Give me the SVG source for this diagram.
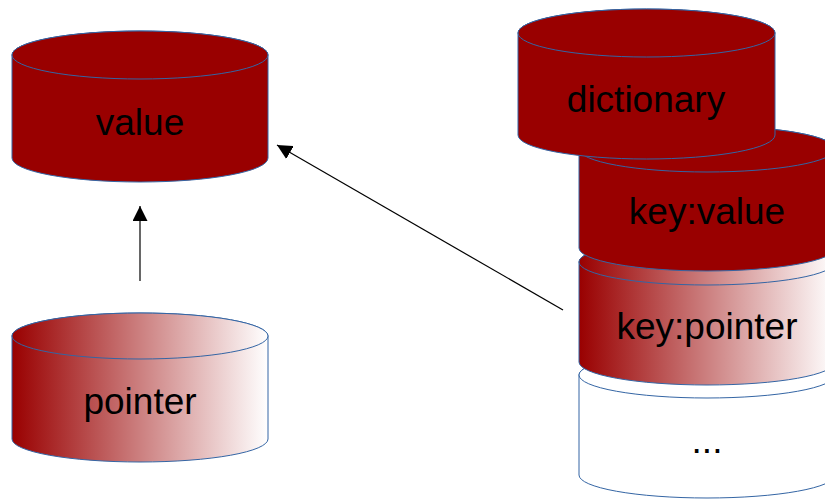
<svg xmlns="http://www.w3.org/2000/svg" width="825" height="499" viewBox="0 0 825 499">
<style>
.cyl{stroke:#3465a4;stroke-width:1}
.red{fill:#990000}
.grad{fill:url(#g)}
.wht{fill:#ffffff}
.lbl{font-family:"Liberation Sans",Arial,sans-serif;font-size:37px;fill:#000000;text-anchor:middle}
.conn{stroke:#000000;stroke-width:1.2;fill:none}
</style>
<defs>
<linearGradient id="g" x1="0" y1="0" x2="1" y2="0">
<stop offset="0" stop-color="#990000"/>
<stop offset="1" stop-color="#ffffff"/>
</linearGradient>
<marker id="ah2" viewBox="0 0 15 15" refX="15" refY="7.5" markerWidth="15" markerHeight="15" markerUnits="userSpaceOnUse" orient="auto">
<path d="M0,0 L15,7.5 L0,15 Z" fill="#000000"/>
</marker>
</defs>
<g id="value">
<path class="cyl red" d="M12,55 L12,158 A128,24 0 0 0 268,158 L268,55 A128,24 0 0 0 12,55 Z"/>
<ellipse class="cyl red" cx="140" cy="55" rx="128" ry="24"/>
<text class="lbl" x="140" y="135">value</text>
</g>
<g id="pointer">
<path class="cyl grad" d="M12,336 L12,439 A128,23 0 0 0 268,439 L268,336 A128,23 0 0 0 12,336 Z"/>
<ellipse class="cyl grad" cx="140" cy="336" rx="128" ry="23"/>
<text class="lbl" x="140" y="414">pointer</text>
</g>
<g id="more">
<path class="cyl wht" d="M579,375 L579,475 A128,23 0 0 0 835,475 L835,375 A128,23 0 0 0 579,375 Z"/>
<ellipse class="cyl wht" cx="707" cy="375" rx="128" ry="23"/>
<text class="lbl" x="707" y="453">...</text>
</g>
<g id="keypointer">
<path class="cyl grad" d="M579,262 L579,362 A128,23 0 0 0 835,362 L835,262 A128,23 0 0 0 579,262 Z"/>
<ellipse class="cyl grad" cx="707" cy="262" rx="128" ry="23"/>
<text class="lbl" x="707" y="339">key:pointer</text>
</g>
<g id="keyvalue">
<path class="cyl red" d="M579,149 L579,248 A128,23 0 0 0 835,248 L835,149 A128,23 0 0 0 579,149 Z"/>
<ellipse class="cyl red" cx="707" cy="149" rx="128" ry="23"/>
<text class="lbl" x="707" y="224">key:value</text>
</g>
<g id="dictionary">
<path class="cyl red" d="M518,33 L518,135 A128.5,24 0 0 0 775,135 L775,33 A128.5,24 0 0 0 518,33 Z"/>
<ellipse class="cyl red" cx="646.5" cy="33" rx="128.5" ry="24"/>
<text class="lbl" x="646" y="112">dictionary</text>
</g>
<g id="connectors">
<line class="conn" x1="140" y1="281" x2="140" y2="206" marker-end="url(#ah2)"/>
<line class="conn" x1="563" y1="310" x2="277" y2="145" marker-end="url(#ah2)"/>
</g>
</svg>
